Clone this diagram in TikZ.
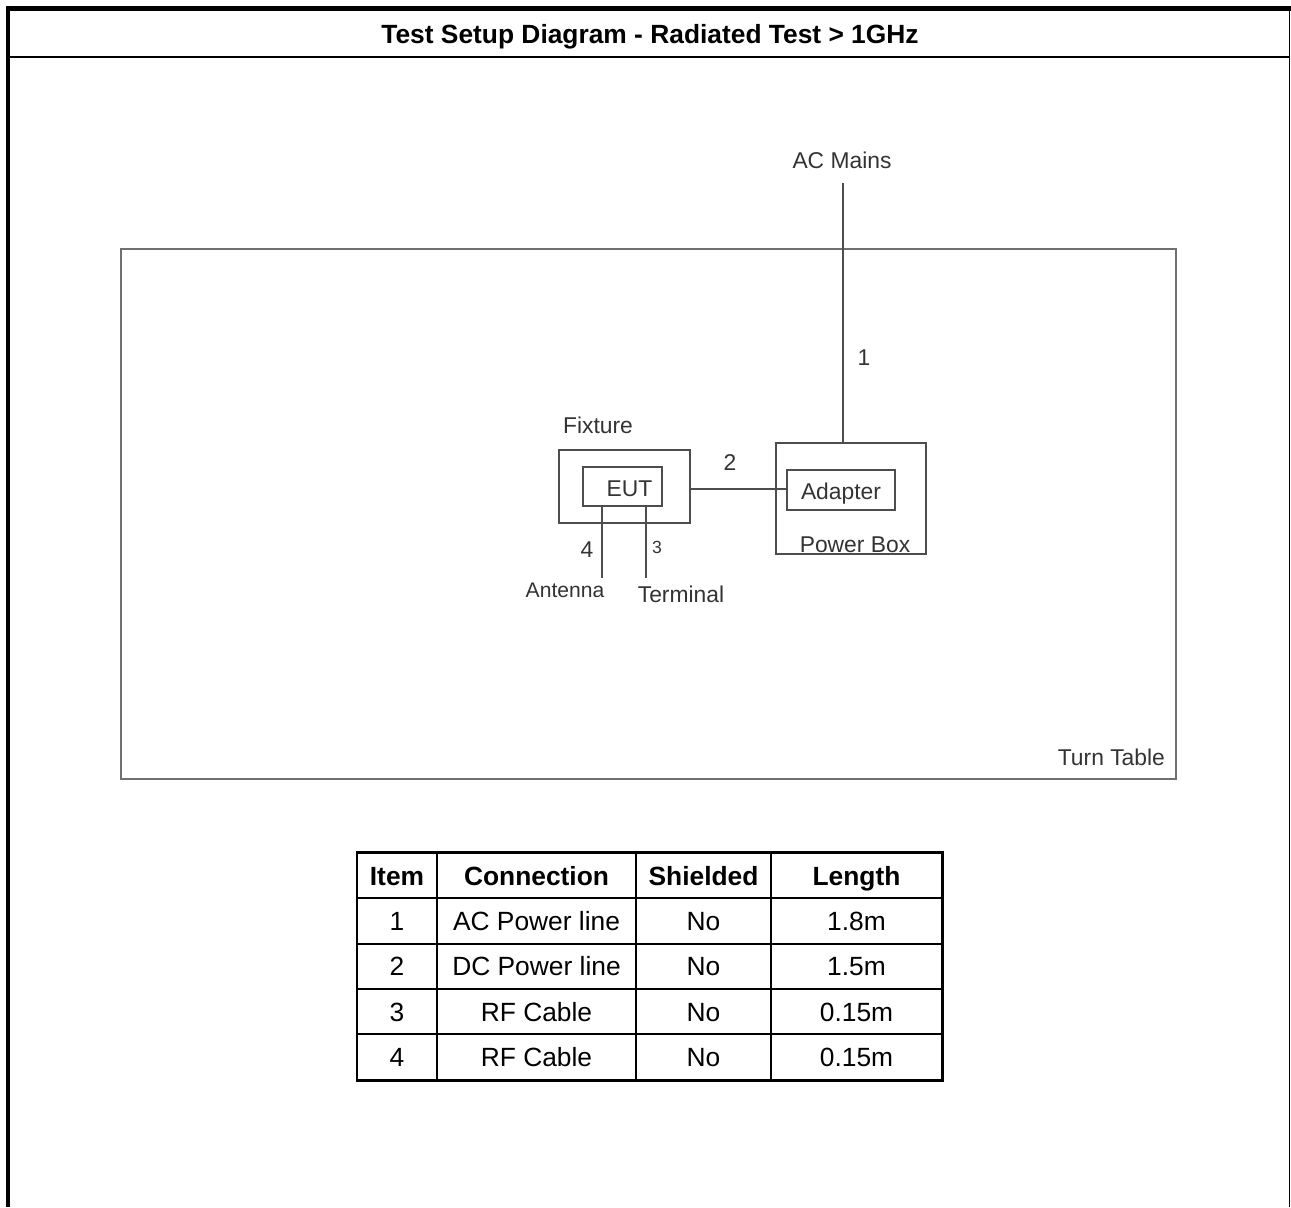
\documentclass[tikz,border=0pt]{standalone}
\usepackage{fontspec}
\setmainfont{Liberation Sans}
\usepackage{tikz}
\usetikzlibrary{
  positioning,
  calc
}
\usepackage{xcolor}
\definecolor{txtgray}{HTML}{333333}
\definecolor{linegray}{HTML}{4D4D4D}
\definecolor{tablegray}{HTML}{707070}

\begin{document}
\begin{tikzpicture}[
  x=0.02cm, y=-0.02cm,
  box/.style 2 args={draw=linegray, line width=0.9pt, minimum width=#1, minimum height=#2, inner sep=0pt},
  lbl/.style={font=\fontsize{13}{15}\selectfont, text=txtgray, inner sep=1pt},
  small/.style={font=\fontsize{10}{12}\selectfont, text=txtgray, inner sep=1pt},
  cell/.style={font=\fontsize{15}{18}\selectfont, inner sep=0pt, text height=11pt, text depth=0pt},
  head/.style={font=\bfseries\fontsize{15}{18}\selectfont, inner sep=0pt, text height=11pt, text depth=0pt},
  wire/.style={draw=linegray, line width=0.9pt}
]
  \useasboundingbox (0,0) rectangle (1291,1207);

  % Frame and title
  \draw[line width=2.8pt] (8,1207) -- (8,8.5) -- (1291,8.5);
  \draw[line width=1.1pt] (1289.5,8.5) -- (1289.5,1207);
  \draw[line width=0.9pt] (8,57) -- (1289.5,57);
  \node[head] (title) at (650,34) {Test Setup Diagram - Radiated Test > 1GHz};

  % Turn table
  \node[draw=tablegray, line width=1.1pt, minimum width=21.1cm, minimum height=10.6cm, inner sep=0pt] (table) at (648.5,514) {};
  \node[lbl, anchor=south east] (tablelbl) at (1167,768) {Turn Table};

  % Equipment
  \node[box={2.62cm}{1.46cm}] (fixture) at (624.5,486.5) {};
  \node[lbl] (fixturelbl) at (598,425) {Fixture};
  \node[box={1.58cm}{0.78cm}, lbl, inner sep=0pt, text height=11pt, text depth=0pt] (eut) at (622.5,486.5) {\hspace*{8pt}EUT};
  \node[box={3cm}{2.22cm}] (pbox) at (851,498.5) {};
  \node[lbl, anchor=south] (pboxlbl) at (855,555) {Power Box};
  \node[box={2.16cm}{0.8cm}, lbl, inner sep=0pt, text height=11pt, text depth=0pt] (adapter) at (841,490) {Adapter};
  \node[lbl] (acmains) at (842,160) {AC Mains};
  \node[lbl, font=\fontsize{12}{14}\selectfont] (antenna) at (565,590) {Antenna};
  \node[lbl] (terminal) at (681,594) {Terminal};
  \coordinate (acend) at (843,183);
  \coordinate (ant) at (602,578);
  \coordinate (term) at (646,578);

  % Cables
  \draw[wire] (acend) -- (acend |- pbox.north);
  \draw[wire] (fixture.east |- 0,489) -- (adapter.west |- 0,489);
  \draw[wire] (ant |- eut.south) -- (ant);
  \draw[wire] (term |- eut.south) -- (term);
  \node[lbl] (n1) at (864,358) {1};
  \node[lbl] (n2) at (730,463) {2};
  \node[small] (n3) at (657,547) {3};
  \node[lbl] (n4) at (587,550) {4};

  % Cable table
  \draw[line width=0.9pt] \foreach \y in {898,944,989,1034} {(357,\y) -- (942,\y)};
  \draw[line width=0.9pt] \foreach \x in {437,636,771} {(\x,852) -- (\x,1080)};
  \draw[line width=1.7pt] (357,852) rectangle (942,1080);
  \foreach \x/\t [count=\i] in {397/Item, 536.5/Connection, 703.5/Shielded, 856.5/Length} {
    \node[head] (h\i) at (\x,876) {\t};
  }
  \foreach \y/\n/\c/\s/\l [count=\r] in {921/1/AC Power line/No/1.8m, 966/2/DC Power line/No/1.5m,
                                          1012/3/RF Cable/No/0.15m, 1057/4/RF Cable/No/0.15m} {
    \node[cell] (r\r a) at (397,\y) {\n};
    \node[cell] (r\r b) at (536.5,\y) {\c};
    \node[cell] (r\r c) at (703.5,\y) {\s};
    \node[cell] (r\r d) at (856.5,\y) {\l};
  }
\end{tikzpicture}
\end{document}
